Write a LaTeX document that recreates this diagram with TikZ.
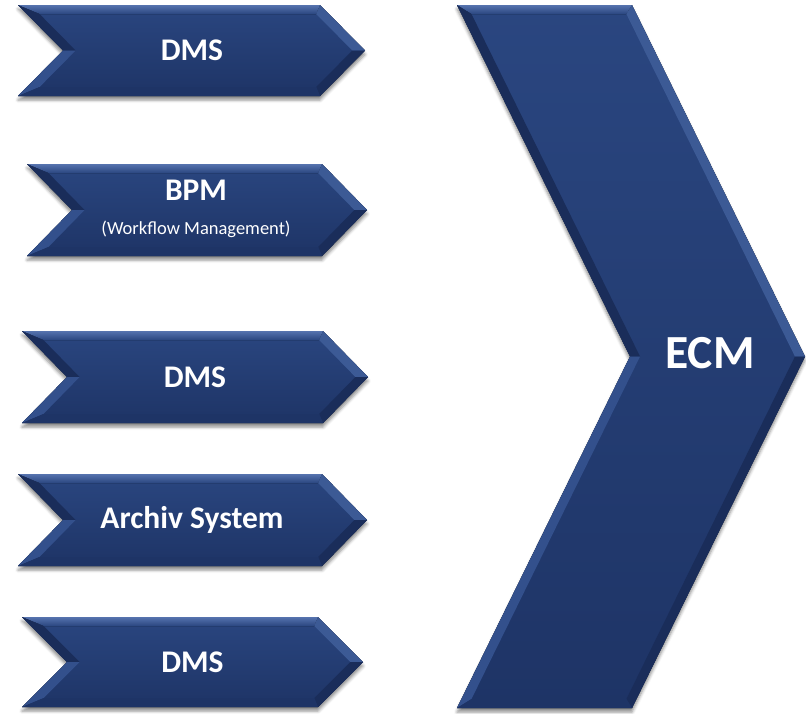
\documentclass[tikz,border=0pt]{standalone}
\usepackage{fontspec}
\setmainfont{Carlito}
\usetikzlibrary{shadows.blur}

\definecolor{navy}{HTML}{22396F}
\definecolor{navylt}{HTML}{2A4680}
\definecolor{navydk}{HTML}{1E3466}
\definecolor{bevtop}{HTML}{5673AE}
\definecolor{bevdk}{HTML}{1A2D5A}
\definecolor{bevlt}{HTML}{33508C}
\definecolor{bevtip}{HTML}{3C5A95}

% chevron: name, left x, top y, width, height, depth of notch/tip
\newcommand{\drawchev}[6]{%
  \pgfmathsetmacro{\chh}{#5/2}
  \pgfmathsetmacro{\che}{9*sqrt((#6/100)^2+(\chh/100)^2)*100/\chh}
  \pgfmathsetmacro{\chc}{#6*9/\chh}
  \coordinate (#1-tl) at (#2,#3);
  \coordinate (#1-tr) at (#2+#4-#6,#3);
  \coordinate (#1-tip) at (#2+#4,#3+\chh);
  \coordinate (#1-br) at (#2+#4-#6,#3+#5);
  \coordinate (#1-bl) at (#2,#3+#5);
  \coordinate (#1-n) at (#2+#6,#3+\chh);
  \coordinate (#1-itl) at (#2+\che+\chc,#3+9);
  \coordinate (#1-itr) at (#2+#4-#6-\che+\chc,#3+9);
  \coordinate (#1-itip) at (#2+#4-\che,#3+\chh);
  \coordinate (#1-ibr) at (#2+#4-#6-\che+\chc,#3+#5-9);
  \coordinate (#1-ibl) at (#2+\che+\chc,#3+#5-9);
  \coordinate (#1-in) at (#2+#6+\che,#3+\chh);
  \fill[body] (#1-tl) -- (#1-tr) -- (#1-tip) -- (#1-br) -- (#1-bl) -- (#1-n) -- cycle;
  \fill[top color=bevtop, bottom color=navylt] (#1-tl) -- (#1-tr) -- (#1-itr) -- (#1-itl) -- cycle;
  \fill[bevdk] (#1-tl) -- (#1-n) -- (#1-in) -- (#1-itl) -- cycle;
  \fill[bevlt] (#1-n) -- (#1-bl) -- (#1-ibl) -- (#1-in) -- cycle;
  \fill[bevtip] (#1-tr) -- (#1-tip) -- (#1-itip) -- (#1-itr) -- cycle;
  \fill[bevdk] (#1-tip) -- (#1-br) -- (#1-ibr) -- (#1-itip) -- cycle;
  \fill[navydk] (#1-br) -- (#1-bl) -- (#1-ibl) -- (#1-ibr) -- cycle;
}

\begin{document}
\begin{tikzpicture}[x=1pt, y=-1pt,
    body/.style={top color=navylt, bottom color=navydk,
      blur shadow={shadow xshift=0pt, shadow yshift=-4pt, shadow blur radius=3pt, shadow opacity=45}},
    lbl/.style={text=white, font=\fontsize{31.5}{34}\selectfont\bfseries, inner sep=0pt},
    sub/.style={text=white, font=\fontsize{18.5}{21}\selectfont, inner sep=0pt}]
  \useasboundingbox (0,0) rectangle (806,713);

  \drawchev{c1}{18}{5}{347}{91}{45}
  \drawchev{c2}{27}{164}{340}{92}{45}
  \drawchev{c3}{22}{331}{346}{92}{45}
  \drawchev{c4}{18}{474}{349}{92}{45}
  \drawchev{c5}{22}{617}{341}{90}{45}
  \drawchev{ecm}{457}{5}{348}{703}{173}

  \node[lbl] (dms1) at (192,50) {DMS};
  \node[lbl] (bpm) at (196,190) {BPM};
  \node[sub] (wfm) at (196,229) {(Workflow Management)};
  \node[lbl] (dms2) at (195,377) {DMS};
  \node[lbl] (arch) at (192,520) {Archiv System};
  \node[lbl] (dms3) at (192.5,662) {DMS};
  \node[lbl, font=\fontsize{47.5}{50}\selectfont\bfseries] (ecmlabel) at (710,353) {ECM};
\end{tikzpicture}
\end{document}
